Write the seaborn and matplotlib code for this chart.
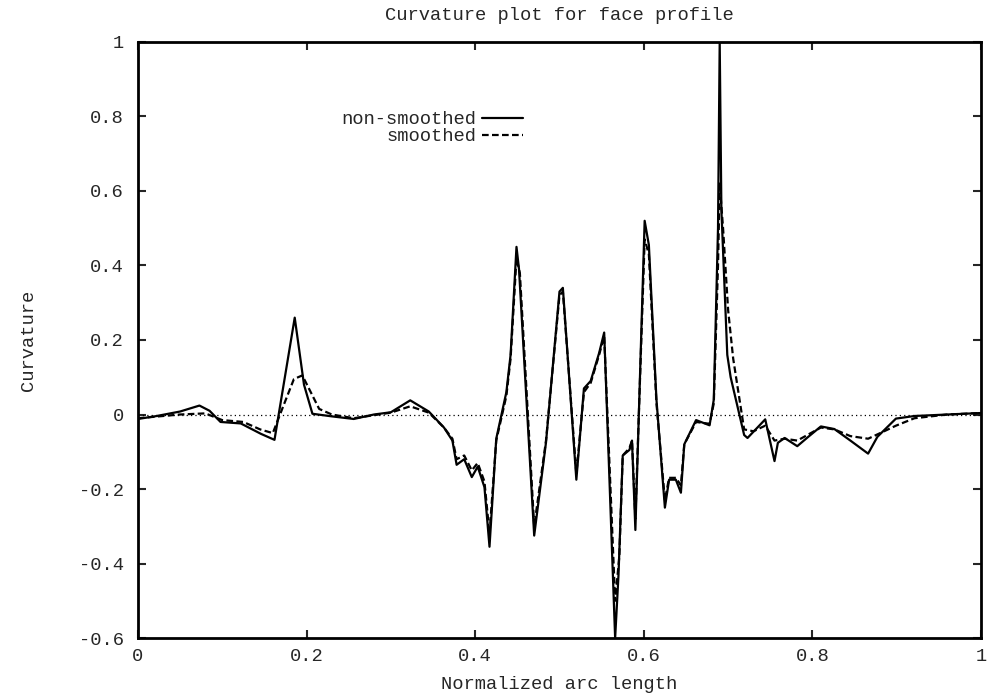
import matplotlib
matplotlib.use("Agg")
import matplotlib.pyplot as plt
import seaborn as sns
import numpy as np

# ---- data ----
raw_x = [0.000, 0.020, 0.050, 0.073, 0.085, 0.098, 0.122, 0.146, 0.162, 0.186,
         0.197, 0.207, 0.230, 0.256, 0.280, 0.300, 0.323, 0.345, 0.363, 0.373,
         0.378, 0.387, 0.396, 0.403, 0.411, 0.417, 0.425, 0.437, 0.442, 0.449,
         0.452, 0.470, 0.484, 0.500, 0.504, 0.520, 0.529, 0.537, 0.547, 0.553,
         0.566, 0.570, 0.575, 0.583, 0.586, 0.590, 0.601, 0.606, 0.615, 0.625,
         0.630, 0.638, 0.644, 0.648, 0.662, 0.678, 0.683, 0.688, 0.690, 0.692,
         0.699, 0.703, 0.719, 0.723, 0.744, 0.755, 0.759, 0.767, 0.782, 0.795,
         0.810, 0.826, 0.845, 0.866, 0.877, 0.899, 0.921, 0.960, 1.000]
raw_y = [-0.012, -0.005, 0.008, 0.024, 0.010, -0.020, -0.024, -0.052, -0.068, 0.260,
         0.080, 0.002, -0.005, -0.012, 0.000, 0.006, 0.038, 0.008, -0.035, -0.070,
         -0.135, -0.120, -0.168, -0.140, -0.195, -0.355, -0.065, 0.060, 0.160, 0.450,
         0.390, -0.325, -0.075, 0.330, 0.340, -0.175, 0.070, 0.090, 0.165, 0.220,
         -0.600, -0.430, -0.110, -0.095, -0.070, -0.310, 0.520, 0.455, 0.040, -0.250,
         -0.175, -0.175, -0.210, -0.080, -0.015, -0.029, 0.040, 0.500, 1.000, 0.550,
         0.160, 0.100, -0.055, -0.063, -0.013, -0.125, -0.076, -0.063, -0.085, -0.060,
         -0.032, -0.039, -0.070, -0.105, -0.060, -0.011, -0.004, 0.000, 0.004]

smooth_x = [0.000, 0.050, 0.080, 0.100, 0.125, 0.145, 0.160, 0.172, 0.185, 0.195,
            0.205, 0.215, 0.230, 0.256, 0.300, 0.323, 0.345, 0.363, 0.373, 0.378,
            0.387, 0.396, 0.403, 0.411, 0.417, 0.425, 0.437, 0.442, 0.449, 0.453,
            0.470, 0.484, 0.500, 0.504, 0.520, 0.529, 0.537, 0.547, 0.553, 0.566,
            0.571, 0.575, 0.583, 0.586, 0.590, 0.601, 0.606, 0.615, 0.625, 0.630,
            0.638, 0.644, 0.648, 0.662, 0.678, 0.683, 0.688, 0.690, 0.694, 0.700,
            0.706, 0.719, 0.730, 0.744, 0.755, 0.767, 0.782, 0.810, 0.826, 0.845,
            0.866, 0.885, 0.899, 0.921, 0.960, 1.000]
smooth_y = [-0.010, 0.000, 0.003, -0.015, -0.020, -0.040, -0.050, 0.020, 0.095, 0.105,
            0.060, 0.015, 0.000, -0.010, 0.005, 0.022, 0.005, -0.035, -0.065, -0.120,
            -0.110, -0.150, -0.130, -0.180, -0.320, -0.070, 0.050, 0.150, 0.420, 0.380,
            -0.300, -0.070, 0.320, 0.330, -0.160, 0.060, 0.085, 0.160, 0.210, -0.500,
            -0.380, -0.110, -0.090, -0.070, -0.280, 0.470, 0.430, 0.030, -0.230, -0.170,
            -0.170, -0.190, -0.080, -0.020, -0.025, 0.030, 0.400, 0.620, 0.500, 0.280,
            0.150, -0.040, -0.045, -0.030, -0.070, -0.065, -0.070, -0.035, -0.040, -0.058,
            -0.065, -0.045, -0.030, -0.010, 0.000, 0.004]

x_ticks = [0, 0.2, 0.4, 0.6, 0.8, 1]
x_tick_labels = ["0", "0.2", "0.4", "0.6", "0.8", "1"]
y_ticks = [-0.6, -0.4, -0.2, 0, 0.2, 0.4, 0.6, 0.8, 1]
y_tick_labels = ["-0.6", "-0.4", "-0.2", "0", "0.2", "0.4", "0.6", "0.8", "1"]

# ---- style ----
sns.set_style("ticks")
plt.rcParams["font.family"] = ["Liberation Mono", "DejaVu Sans Mono"]
plt.rcParams["font.size"] = 13.5

fig = plt.figure(figsize=(9.92, 6.96), dpi=100)
ax = fig.add_axes([0.139, 0.0833, 0.850, 0.8564])

ax.axhline(0, color="black", lw=0.9, ls=(0, (1, 2.5)), zorder=1)

sns.lineplot(x=raw_x, y=raw_y, ax=ax, color="black", lw=1.6,
             estimator=None, sort=False, label="non-smoothed", zorder=3)
sns.lineplot(x=smooth_x, y=smooth_y, ax=ax, color="black", lw=1.6,
             estimator=None, sort=False, label="smoothed", zorder=2)
ax.lines[-1].set_dashes([3, 1.5])

ax.set_xlim(0, 1)
ax.set_ylim(-0.6, 1)
ax.set_xticks(x_ticks)
ax.set_xticklabels(x_tick_labels)
ax.set_yticks(y_ticks)
ax.set_yticklabels(y_tick_labels)
ax.tick_params(direction="in", length=6, width=1.5, top=True, right=True,
               labelsize=13.5, pad=10)
ax.tick_params(axis="x", pad=7)
for s in ax.spines.values():
    s.set_linewidth(2)
    s.set_color("black")

ax.set_title("Curvature plot for face profile", fontsize=13.5, pad=0, y=1.037)
ax.set_xlabel("Normalized arc length", fontsize=13.5, labelpad=8)
ax.set_ylabel("Curvature", fontsize=13.5, labelpad=30)

leg = ax.legend(loc="upper right", bbox_to_anchor=(0.468, 0.90),
                frameon=False, markerfirst=False, handlelength=2.2,
                handletextpad=0.3, labelspacing=0.0, borderpad=0,
                fontsize=13.5)
for t in leg.get_texts():
    t.set_ha("right")

fig.savefig("out.png", dpi=100, facecolor="white")
